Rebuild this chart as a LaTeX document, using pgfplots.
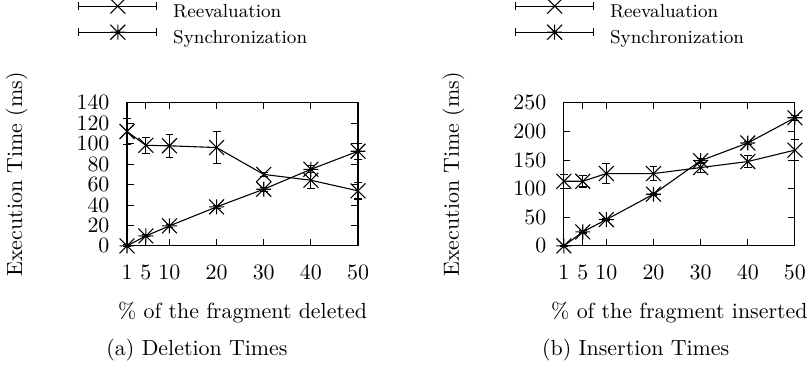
\documentclass[border=0pt]{standalone}
\usepackage{pgfplots}
\usepackage{pgfplotstable}
\pgfplotsset{compat=1.18}

\pgfdeclareplotmark{gpx}{%
  \pgfpathmoveto{\pgfqpoint{-\pgfplotmarksize}{-\pgfplotmarksize}}%
  \pgfpathlineto{\pgfqpoint{\pgfplotmarksize}{\pgfplotmarksize}}%
  \pgfpathmoveto{\pgfqpoint{-\pgfplotmarksize}{\pgfplotmarksize}}%
  \pgfpathlineto{\pgfqpoint{\pgfplotmarksize}{-\pgfplotmarksize}}%
  \pgfusepathqstroke}
\pgfdeclareplotmark{gpstar}{%
  \pgfpathmoveto{\pgfqpoint{-\pgfplotmarksize}{-\pgfplotmarksize}}%
  \pgfpathlineto{\pgfqpoint{\pgfplotmarksize}{\pgfplotmarksize}}%
  \pgfpathmoveto{\pgfqpoint{-\pgfplotmarksize}{\pgfplotmarksize}}%
  \pgfpathlineto{\pgfqpoint{\pgfplotmarksize}{-\pgfplotmarksize}}%
  \pgfpathmoveto{\pgfqpoint{-\pgfplotmarksize}{0pt}}%
  \pgfpathlineto{\pgfqpoint{\pgfplotmarksize}{0pt}}%
  \pgfpathmoveto{\pgfqpoint{0pt}{-\pgfplotmarksize}}%
  \pgfpathlineto{\pgfqpoint{0pt}{\pgfplotmarksize}}%
  \pgfusepathqstroke}

\pgfplotstableread{
x y e
1 112 12.5
5 98.5 8
10 98 11
20 96.3 16
30 70 2
40 64.3 8
50 53.9 8
}\delre
\pgfplotstableread{
x y e
1 0 1
5 9.8 1
10 19.6 1.5
20 38.2 1.5
30 55.5 2
40 75 3.5
50 92.7 8
}\delsy
\pgfplotstableread{
x y e
1 113 12.5
5 113 10
10 126.5 17.5
20 126.5 12.3
30 137 8
40 147.5 10.5
50 167.5 18
}\insre
\pgfplotstableread{
x y e
1 0 1
5 24.5 2
10 46 2
20 90.4 2
30 149 4
40 180 3
50 224 4
}\inssy

\pgfplotsset{
  gpaxis/.style={
    width=105.5pt, height=65.3pt, scale only axis,
    xmin=1, xmax=50, ymin=0,
    xtick={1,5,10,20,30,40,50},
    tick align=inside, xtick pos=both, ytick pos=both,
    major tick length=3pt,
    minor tick num=0,
    clip=false,
    axis line style={line width=0.5pt},
    every tick/.style={line width=0.5pt, black},
    every x tick label/.append style={yshift=-5.4pt},
    every y tick label/.append style={xshift=-4.5pt},
    every axis x label/.style={at={(axis description cs:0.5,-0.4625)}, anchor=center},
    every axis y label/.style={at={(axis description cs:-0.478,0.5)}, rotate=90, anchor=center},
    ylabel={Execution Time (ms)},
    legend style={at={(axis description cs:-0.2133,1.732)}, anchor=north west,
      draw=none, fill=none, inner sep=0pt, row sep=1.7pt,
      font=\fontsize{8.5}{10}\selectfont,
      nodes={inner sep=0pt, text height=6pt, text depth=1.8pt},
      /tikz/every odd column/.append style={column sep=7.2pt}},
    legend cell align=left,
    legend image code/.code={
      \draw[yshift=2.9pt,mark=none,#1] (0pt,0pt) -- (35.7pt,0pt);
      \draw[yshift=2.9pt,mark=none,#1] (0pt,-1.8pt) -- (0pt,1.8pt);
      \draw[yshift=2.9pt,mark=none,#1] (35.7pt,-1.8pt) -- (35.7pt,1.8pt);
      \draw[yshift=2.9pt,#1] plot coordinates {(17.85pt,0pt)};
    },
  },
  gpre/.style={black, line width=0.5pt, mark=gpx, mark size=3.4pt,
    error bars/.cd, y dir=both, y explicit, error mark=-,
    error mark options={rotate=90, mark size=1.8pt, line width=0.5pt, black}},
  gpsy/.style={black, line width=0.5pt, mark=gpstar, mark size=3.4pt,
    error bars/.cd, y dir=both, y explicit, error mark=-,
    error mark options={rotate=90, mark size=1.8pt, line width=0.5pt, black}},
}

\begin{document}
\begin{tikzpicture}
\begin{axis}[gpaxis, ymax=140, ytick={0,20,40,60,80,100,120,140},
  xlabel={\% of the fragment deleted}]
\addplot[gpre] table[x=x, y=y, y error=e] {\delre};
\addlegendentry{Reevaluation}
\addplot[gpsy] table[x=x, y=y, y error=e] {\delsy};
\addlegendentry{Synchronization}
\node at (axis description cs:0.303,-0.73) {(a) Deletion Times};
\end{axis}
\begin{axis}[gpaxis, at={(199.5pt,0pt)}, anchor=south west,
  ymax=250, ytick={0,50,100,150,200,250},
  xlabel={\% of the fragment inserted}]
\addplot[gpre] table[x=x, y=y, y error=e] {\insre};
\addlegendentry{Reevaluation}
\addplot[gpsy] table[x=x, y=y, y error=e] {\inssy};
\addlegendentry{Synchronization}
\node at (axis description cs:0.311,-0.73) {(b) Insertion Times};
\end{axis}
\pgfresetboundingbox
\path[use as bounding box] (-58pt,-55.3pt) rectangle (312.8pt,112.3pt);
\end{tikzpicture}
\end{document}
